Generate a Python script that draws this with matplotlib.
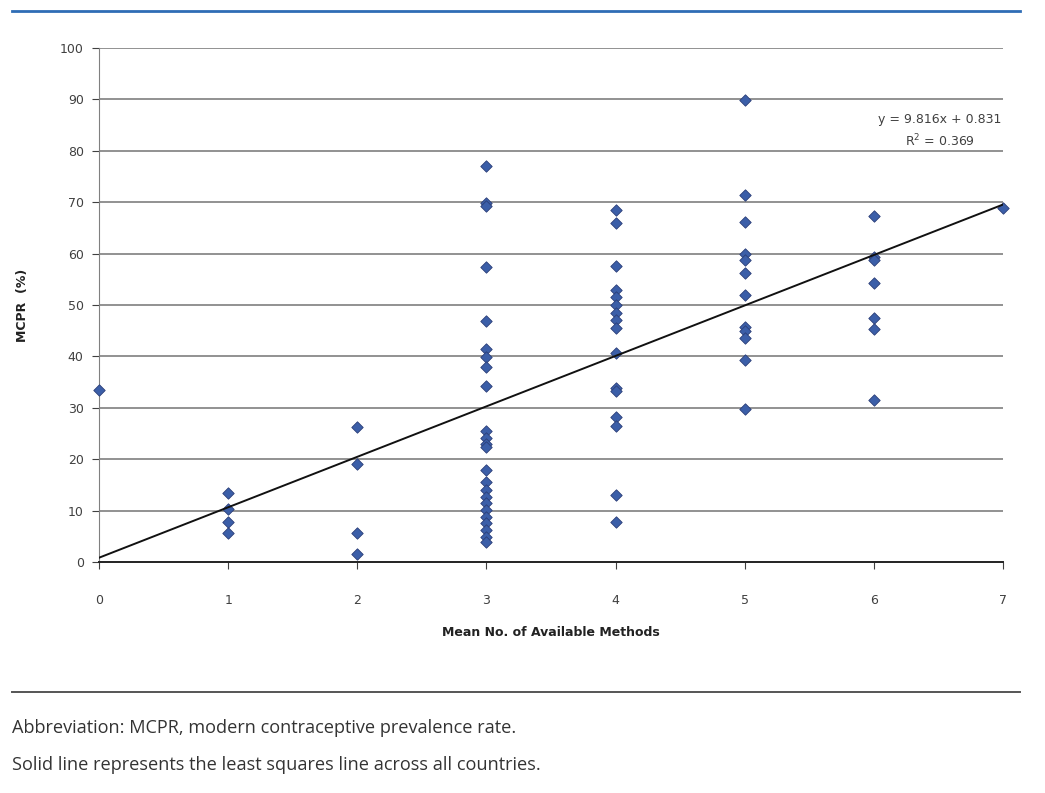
import matplotlib
matplotlib.use("Agg")
import matplotlib.pyplot as plt
from matplotlib.lines import Line2D

# Data: number of available methods (x) vs MCPR % (y)
y_at0 = [33.5]
y_at1 = [13.5, 10.4, 7.8, 5.7]
y_at2 = [26.3, 19.1, 5.7, 1.6]
y_at3 = [77.0, 69.9, 69.3, 57.4, 46.8, 41.4, 39.8, 38.0, 34.2, 25.5, 24.2, 23.0,
         22.3, 17.9, 15.6, 14.0, 12.7, 11.4, 10.1, 8.8, 7.5, 6.2, 4.9, 3.9]
y_at4 = [68.5, 65.9, 57.5, 53.0, 51.6, 50.0, 48.4, 47.1, 45.5, 40.6, 33.8, 33.3,
         28.3, 26.5, 13.0, 7.8]
y_at5 = [89.9, 71.4, 66.2, 60.0, 58.8, 56.2, 51.9, 45.8, 45.0, 43.5, 39.3, 29.8]
y_at6 = [67.3, 59.3, 58.8, 54.2, 47.5, 45.3, 31.5]
y_at7 = [68.8]
groups = [y_at0, y_at1, y_at2, y_at3, y_at4, y_at5, y_at6, y_at7]

slope = 9.816
intercept = 0.831
r2 = 0.369

x_ticks = [0, 1, 2, 3, 4, 5, 6, 7]
y_ticks = [0, 10, 20, 30, 40, 50, 60, 70, 80, 90, 100]

xs, ys = [], []
for xv, g in zip(x_ticks, groups):
    xs += [xv] * len(g)
    ys += g

fig = plt.figure(figsize=(10.45, 7.93), dpi=100)
ax = fig.add_axes([99 / 1045, 1 - 562 / 793, (1003 - 99) / 1045, (562 - 48) / 793])

ax.set_xlim(0, 7)
ax.set_ylim(0, 100)
ax.set_yticks(y_ticks)
ax.set_xticks(x_ticks)
for yv in y_ticks[1:]:
    ax.axhline(yv, color="#7f7f7f", lw=1.2, zorder=1)

ax.scatter(xs, ys, marker="D", s=34, color="#3b5ea8", edgecolors="#2c3f78",
           linewidths=0.6, zorder=3, clip_on=False)

lx = [0, 7]
ly = [intercept + slope * v for v in lx]
ax.plot(lx, ly, color="#111111", lw=1.4, zorder=4)

ax.text(6.51, 86.0, f"y = {slope}x + {intercept}", ha="center", va="center",
        fontsize=9, color="#404040")
ax.text(6.51, 81.9, f"R$^2$ = {r2}", ha="center", va="center",
        fontsize=9, color="#404040")

for s in ["top", "right"]:
    ax.spines[s].set_visible(False)
ax.spines["left"].set_color("#808080")
ax.spines["bottom"].set_color("#222222")
ax.spines["bottom"].set_linewidth(1.4)

ax.tick_params(axis="x", length=5, pad=18, labelsize=9, colors="#404040")
ax.tick_params(axis="y", length=5, pad=6, labelsize=9, colors="#404040")

ax.set_xlabel("Mean No. of Available Methods", fontsize=9, fontweight="bold",
              color="#222222", labelpad=14)
ax.set_ylabel("MCPR  (%)", fontsize=9, fontweight="bold", color="#222222",
              labelpad=22)

# decorative rules
fig.add_artist(Line2D([12 / 1045, 1020 / 1045], [1 - 11 / 793, 1 - 11 / 793],
                      color="#2f6db5", lw=2.0))
fig.add_artist(Line2D([12 / 1045, 1020 / 1045], [1 - 692 / 793, 1 - 692 / 793],
                      color="#555555", lw=1.4))

fig.text(12 / 1045, 1 - 728 / 793,
         "Abbreviation: MCPR, modern contraceptive prevalence rate.",
         ha="left", va="center", fontsize=13.1, family="Open Sans", color="#333333")
fig.text(12 / 1045, 1 - 765 / 793,
         "Solid line represents the least squares line across all countries.",
         ha="left", va="center", fontsize=13.1, family="Open Sans", color="#333333")

fig.savefig("out.png", dpi=100)
